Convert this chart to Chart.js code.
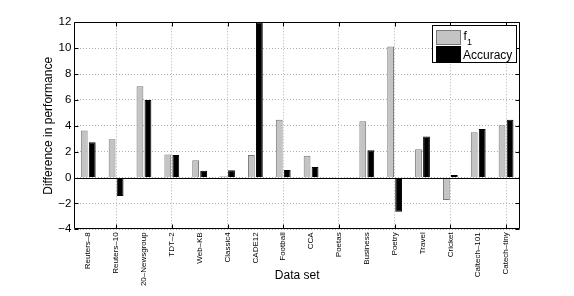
<!DOCTYPE html>
<html>
<head>
<meta charset="utf-8">
<script src="https://cdn.jsdelivr.net/npm/chart.js@4.4.1/dist/chart.umd.min.js"></script>
<style>
  body { margin: 0; background: #fff; }
  #wrap { width: 574px; height: 296px; }
</style>
</head>
<body>
<div id="wrap"><canvas id="perfChart" width="574" height="296"></canvas></div>
<script>
  const dataSets = ['Reuters–8', 'Reuters–10', '20–Newsgroup', 'TDT–2', 'Web–KB', 'Classic4', 'CADE12',
    'Football', 'CCA', 'Poetas', 'Business', 'Poetry', 'Travel', 'Cricket', 'Caltech–101', 'Catech–tiny'];
  const f1Diff = [3.63, 2.96, 7.06, 1.78, 1.34, 0.1, 1.75, 4.46, 1.68, -0.07, 4.36, 10.13, 2.19, -1.73, 3.5, 4.05];
  const accDiff = [2.73, -1.42, 6.0, 1.75, 0.52, 0.57, 12.0, 0.59, 0.82, -0.04, 2.11, -2.65, 3.17, 0.2, 3.76, 4.46];
  const yTicks = [-4, -2, 0, 2, 4, 6, 8, 10, 12];

  const FONT = '"Liberation Sans", Arial, Helvetica, sans-serif';
  const gridGray = '#b0b0b0';

  // box, inward tick marks, zero baseline and the legend
  const matlabLook = {
    id: 'matlabLook',
    afterDatasetsDraw(chart) {
      const {ctx, chartArea: a, scales: {y}} = chart;
      const y0 = Math.round(y.getPixelForValue(0)) + 0.5;
      ctx.save();
      ctx.strokeStyle = '#000';
      ctx.lineWidth = 1;
      ctx.beginPath();
      ctx.moveTo(a.left, y0);
      ctx.lineTo(a.right, y0);
      ctx.stroke();
      ctx.restore();
    },
    afterDraw(chart) {
      const {ctx, chartArea: a, scales: {x, y}} = chart;
      const L = Math.round(a.left) + 0.5, R = Math.round(a.right) - 0.5;
      const T = Math.round(a.top) + 0.5, B = Math.round(a.bottom) - 0.5;
      ctx.save();
      ctx.strokeStyle = '#000';
      ctx.lineWidth = 1;
      ctx.beginPath();
      ctx.rect(L, T, R - L, B - T);
      // y ticks on both sides
      yTicks.forEach(v => {
        const py = Math.round(y.getPixelForValue(v)) + 0.5;
        ctx.moveTo(L, py); ctx.lineTo(L + 4, py);
        ctx.moveTo(R, py); ctx.lineTo(R - 4, py);
      });
      // x ticks at every other category
      dataSets.forEach((d, i) => {
        if (i % 2 === 1) {
          const px = Math.round(x.getPixelForValue(i)) + 0.5;
          ctx.moveTo(px, B); ctx.lineTo(px, B - 4);
          ctx.moveTo(px, T); ctx.lineTo(px, T + 4);
        }
      });
      ctx.stroke();

      // legend
      const ds = chart.data.datasets;
      const lx = 432.5, ly = 25.5, lw = 84, lh = 37;
      ctx.fillStyle = '#fff';
      ctx.fillRect(lx, ly, lw, lh);
      ctx.strokeRect(lx, ly, lw, lh);
      ctx.fillStyle = ds[0].backgroundColor;
      ctx.fillRect(436.5, 30.5, 24, 14);
      ctx.strokeStyle = ds[0].borderColor;
      ctx.strokeRect(436.5, 30.5, 24, 14);
      ctx.fillStyle = ds[1].backgroundColor;
      ctx.fillRect(436.5, 46.5, 24, 15);
      ctx.strokeStyle = ds[1].borderColor;
      ctx.strokeRect(436.5, 46.5, 24, 15);

      ctx.fillStyle = '#000';
      ctx.textBaseline = 'alphabetic';
      ctx.textAlign = 'left';
      ctx.font = '12px ' + FONT;
      ctx.fillText('f', 463.5, 40);
      ctx.font = '9px ' + FONT;
      ctx.fillText('1', 467, 45);
      ctx.font = '12px ' + FONT;
      ctx.fillText(ds[1].label, 463, 58.5);
      ctx.restore();
    }
  };

  new Chart(document.getElementById('perfChart'), {
    type: 'bar',
    data: {
      labels: dataSets,
      datasets: [
        {
          label: 'f1',
          data: f1Diff,
          backgroundColor: '#c4c4c4',
          borderColor: '#777777',
          borderWidth: 1,
          categoryPercentage: 0.575,
          barPercentage: 0.85
        },
        {
          label: 'Accuracy',
          data: accDiff,
          backgroundColor: '#000000',
          borderColor: '#000000',
          borderWidth: 1,
          categoryPercentage: 0.575,
          barPercentage: 0.85
        }
      ]
    },
    options: {
      responsive: false,
      animation: false,
      layout: { padding: { top: 22.3, right: 54, left: 0, bottom: 0 } },
      plugins: {
        legend: { display: false },
        tooltip: { enabled: false }
      },
      scales: {
        x: {
          offset: true,
          afterFit(scale) { scale.height = 66.7; },
          grid: {
            offset: false,
            drawTicks: false,
            color: ctx => (ctx.index % 2 === 1 ? gridGray : 'rgba(0,0,0,0)'),
            lineWidth: 1
          },
          border: { display: false, dash: [1, 2] },
          ticks: {
            autoSkip: false,
            maxRotation: 90,
            minRotation: 90,
            padding: 3,
            color: '#000',
            font: { family: FONT, size: 8 }
          },
          title: {
            display: true,
            text: 'Data set',
            color: '#000',
            font: { family: FONT, size: 12 },
            padding: { top: 0, bottom: 12.8 }
          }
        },
        y: {
          min: -4,
          max: 12,
          afterFit(scale) { scale.width = 74.3; },
          afterBuildTicks(scale) { scale.ticks = yTicks.map(v => ({ value: v })); },
          grid: {
            drawTicks: false,
            color: gridGray,
            lineWidth: 1
          },
          border: { display: false, dash: [1, 2] },
          ticks: {
            padding: 3,
            color: '#000',
            font: { family: FONT, size: 11.5 },
            callback: v => String(v).replace('-', '−')
          },
          title: {
            display: true,
            text: 'Difference in performance',
            color: '#000',
            font: { family: FONT, size: 12 },
            padding: { top: 41.8, bottom: 0 }
          }
        }
      }
    },
    plugins: [matlabLook]
  });
</script>
</body>
</html>
